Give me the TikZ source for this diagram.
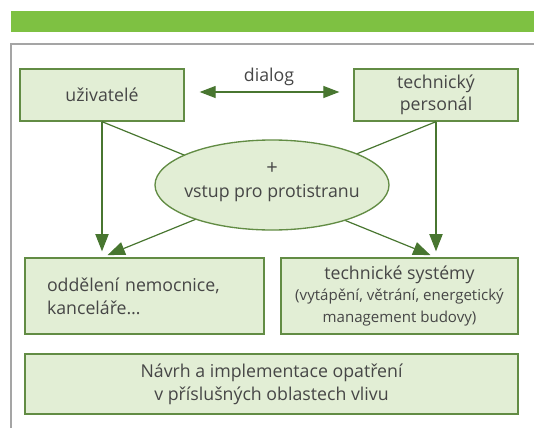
\documentclass[tikz,border=0pt]{standalone}
\usepackage{fontspec}
\setmainfont{Open Sans}
\usetikzlibrary{arrows.meta,shapes.geometric}

\definecolor{barGreen}{RGB}{126,193,66}
\definecolor{boxFill}{RGB}{226,238,213}
\definecolor{boxLine}{RGB}{98,140,68}
\definecolor{arrowGreen}{RGB}{72,118,48}
\definecolor{textGray}{RGB}{70,70,70}
\definecolor{frameGray}{RGB}{165,165,165}

\begin{document}
\begin{tikzpicture}[x=0.75pt,y=-0.75pt,
        font=\fontsize{13.3}{17}\selectfont, text=textGray,
        box/.style={draw=boxLine, fill=boxFill, line width=1pt, align=center, inner sep=0pt},
        link/.style={draw=arrowGreen, line width=0.9pt, -{Triangle[length=13pt,width=10pt]}, shorten >=4.5pt}]
    \useasboundingbox (0,0) rectangle (534,428);
    \fill[barGreen] (11,11) rectangle (534,32);
    \draw[frameGray, line width=1.3pt] (11,428) -- (11,44) -- (534,44);

    \node[box, minimum width=164*0.75pt, minimum height=52*0.75pt] (users) at (102,95) {uživatelé};
    \node[box, minimum width=164*0.75pt, minimum height=52*0.75pt] (staff) at (436,95) {technický\\personál};
    \node[box, minimum width=239*0.75pt, minimum height=76*0.75pt, text width=195*0.75pt, inner xsep=22*0.75pt, align=left] (dept) at (144.5,296) {oddělení nemocnice,\\kanceláře\dots};
    \node[box, minimum width=237*0.75pt, minimum height=76*0.75pt] (tech) at (399.5,296)
        {technické systémy\\[-1pt]{\fontsize{11.3}{16.5}\selectfont (vytápění, větrání, energetický}\\[-1pt]{\fontsize{11.3}{16.5}\selectfont management budovy)}};
    \node[box, minimum width=493*0.75pt, minimum height=60*0.75pt] (plan) at (271.5,384) {Návrh a implementace opatření\\v příslušných oblastech vlivu};

    \draw[link] (users.south) -- (users.south |- dept.north);
    \draw[link] (staff.south) -- (staff.south |- tech.north);
    \draw[link] (users.south) -- (staff.south |- tech.north);
    \draw[link] (staff.south) -- (users.south |- dept.north);

    \node[box, ellipse, minimum width=234*0.75pt, minimum height=90*0.75pt] (input) at (272,185) {};
    \node[align=center, inner sep=0pt] (inputtext) at ([yshift=2pt]input.center) {{\fontsize{15}{17}\selectfont +}\\vstup pro protistranu};

    \draw[draw=arrowGreen, line width=0.9pt, {Triangle[length=12pt,width=9pt]}-{Triangle[length=12pt,width=9pt]}, shorten <=15*0.75pt, shorten >=14*0.75pt]
        ([yshift=2.25pt]users.east) -- node[above=1pt] (dialog) {dialog} ([yshift=2.25pt]staff.west);
\end{tikzpicture}
\end{document}
